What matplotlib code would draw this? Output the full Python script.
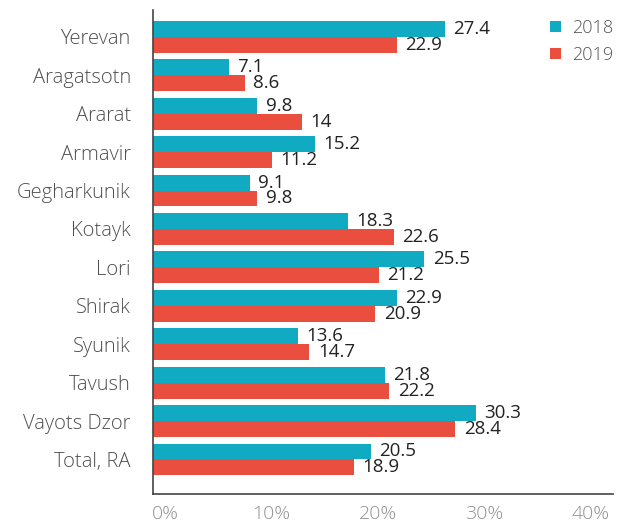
import numpy as np
import matplotlib.pyplot as plt
from matplotlib.transforms import ScaledTranslation

regions = ["Yerevan", "Aragatsotn", "Ararat", "Armavir", "Gegharkunik", "Kotayk",
           "Lori", "Shirak", "Syunik", "Tavush", "Vayots Dzor", "Total, RA"]
v2018 = [27.4, 7.1, 9.8, 15.2, 9.1, 18.3, 25.5, 22.9, 13.6, 21.8, 30.3, 20.5]
v2019 = [22.9, 8.6, 14, 11.2, 9.8, 22.6, 21.2, 20.9, 14.7, 22.2, 28.4, 18.9]
xticks = [0, 10, 20, 30, 40]

plt.rcParams['font.family'] = ['Open Sans', 'DejaVu Sans']

teal = '#10aac3'
red = '#e94e3f'

fig = plt.figure(figsize=(6.26, 5.23), dpi=100)
ax = fig.add_axes([0.2444, 0.0554, 0.7346, 0.9256])

y = np.arange(len(regions))
h = 0.415
b1 = ax.barh(y - h / 2, v2018, height=h, color=teal, label='2018')
b2 = ax.barh(y + h / 2, v2019, height=h, color=red, label='2019')

for bars, vals in ((b1, v2018), (b2, v2019)):
    for bar, v in zip(bars, vals):
        ax.annotate(f"{v:g}", (bar.get_width(), bar.get_y() + bar.get_height() / 2),
                    xytext=(6, 0), textcoords='offset points', va='center', ha='left',
                    fontsize=13.5, color='#222222', fontweight='medium')

ax.set_yticks(y)
ax.set_yticklabels(regions, fontsize=14.5, color='#4f4f4f', fontweight='light')
ax.set_ylim(len(regions) - 0.1, -0.7)
ax.set_xlim(0, 43.2)
ax.set_xticks(xticks)
ax.set_xticklabels([f"{t}%" for t in xticks], fontsize=14, color='#8f8f8f', fontweight='light')

ax.tick_params(axis='both', length=0)
ax.tick_params(axis='y', pad=16)
ax.tick_params(axis='x', pad=8)
# shift the x tick labels a little to the right, like the source
for lab in ax.get_xticklabels():
    lab.set_transform(lab.get_transform() + ScaledTranslation(12 / 100, 0, fig.dpi_scale_trans))

for s in ('top', 'right'):
    ax.spines[s].set_visible(False)
for s in ('left', 'bottom'):
    ax.spines[s].set_color('#444444')
    ax.spines[s].set_linewidth(1.2)

leg = ax.legend(loc='upper right', bbox_to_anchor=(1.0, 0.988), bbox_transform=fig.transFigure,
                frameon=False, prop={'size': 13, 'weight': 'light'},
                handlelength=0.62, handleheight=0.62, handletextpad=0.6, labelspacing=0.5,
                borderaxespad=0.3)
for t in leg.get_texts():
    t.set_color('#555555')

plt.savefig("out.png", dpi=100)
